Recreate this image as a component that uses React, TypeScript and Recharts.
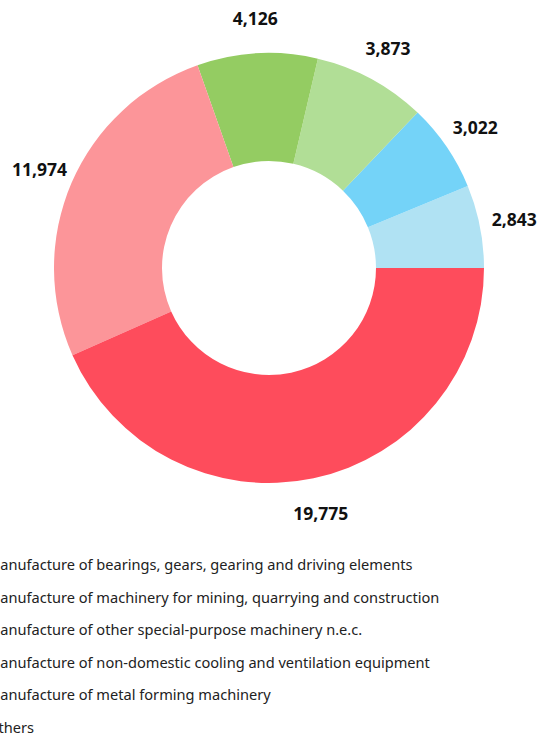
import React from 'react';
import { PieChart, Pie, Cell } from 'recharts';

// slices, counter-clockwise from 3 o'clock
const categories = [
  'Manufacture of metal forming machinery',
  'Manufacture of non-domestic cooling and ventilation equipment',
  'Manufacture of other special-purpose machinery n.e.c.',
  'Manufacture of machinery for mining, quarrying and construction',
  'Manufacture of bearings, gears, gearing and driving elements',
  'Others',
];
const values = [2843, 3022, 3873, 4126, 11974, 19775];
const colors = ['#b0e2f3', '#74d3f8', '#b1de96', '#94cc62', '#fc9599', '#fe4c5c'];

// legend reads top to bottom in this order
const legendOrder = [
  'Manufacture of bearings, gears, gearing and driving elements',
  'Manufacture of machinery for mining, quarrying and construction',
  'Manufacture of other special-purpose machinery n.e.c.',
  'Manufacture of non-domestic cooling and ventilation equipment',
  'Manufacture of metal forming machinery',
  'Others',
];

const chartData = categories.map((name, i) => ({ name, value: values[i] }));
const RAD = Math.PI / 180;

const renderLabel = (props: any) => {
  const { cx, cy, midAngle, outerRadius, value } = props;
  const r = outerRadius + 35;
  const x = cx + r * Math.cos(-midAngle * RAD);
  const y = cy + r * Math.sin(-midAngle * RAD);
  return (
    <text x={x} y={y} textAnchor="middle" dominantBaseline="central" fill="#111" fontSize={17.5} fontWeight={700}>
      {value.toLocaleString('en-US')}
    </text>
  );
};

export default function App() {
  return (
    <div style={{ position: 'fixed', left: 0, top: 0, width: 541, height: 735, overflow: 'hidden', background: '#fff' }}>
      <PieChart
        width={541}
        height={540}
        margin={{ top: 0, right: 0, bottom: 0, left: 0 }}
        style={{ fontFamily: '"Noto Sans", sans-serif' }}
      >
        <Pie
          data={chartData}
          dataKey="value"
          nameKey="name"
          cx={269}
          cy={268}
          innerRadius={107}
          outerRadius={215}
          startAngle={0}
          endAngle={360}
          stroke="none"
          label={renderLabel}
          labelLine={false}
          isAnimationActive={false}
        >
          {chartData.map((d, i) => (
            <Cell key={d.name} fill={colors[i]} />
          ))}
        </Pie>
      </PieChart>
      {/* legend, shifted so its markers fall off the left edge as in the source */}
      <div
        style={{
          position: 'absolute',
          left: -33,
          top: 548,
          width: 620,
          fontFamily: '"Noto Sans", sans-serif',
          fontSize: 14.6,
          color: '#222',
        }}
      >
        {legendOrder.map((name) => {
          const i = categories.indexOf(name);
          return (
            <div key={name} style={{ display: 'flex', alignItems: 'center', height: 32.5, whiteSpace: 'nowrap' }}>
              <span style={{ width: 12, height: 12, background: colors[i], marginRight: 8, flexShrink: 0 }} />
              <span>{name}</span>
            </div>
          );
        })}
      </div>
    </div>
  );
}
